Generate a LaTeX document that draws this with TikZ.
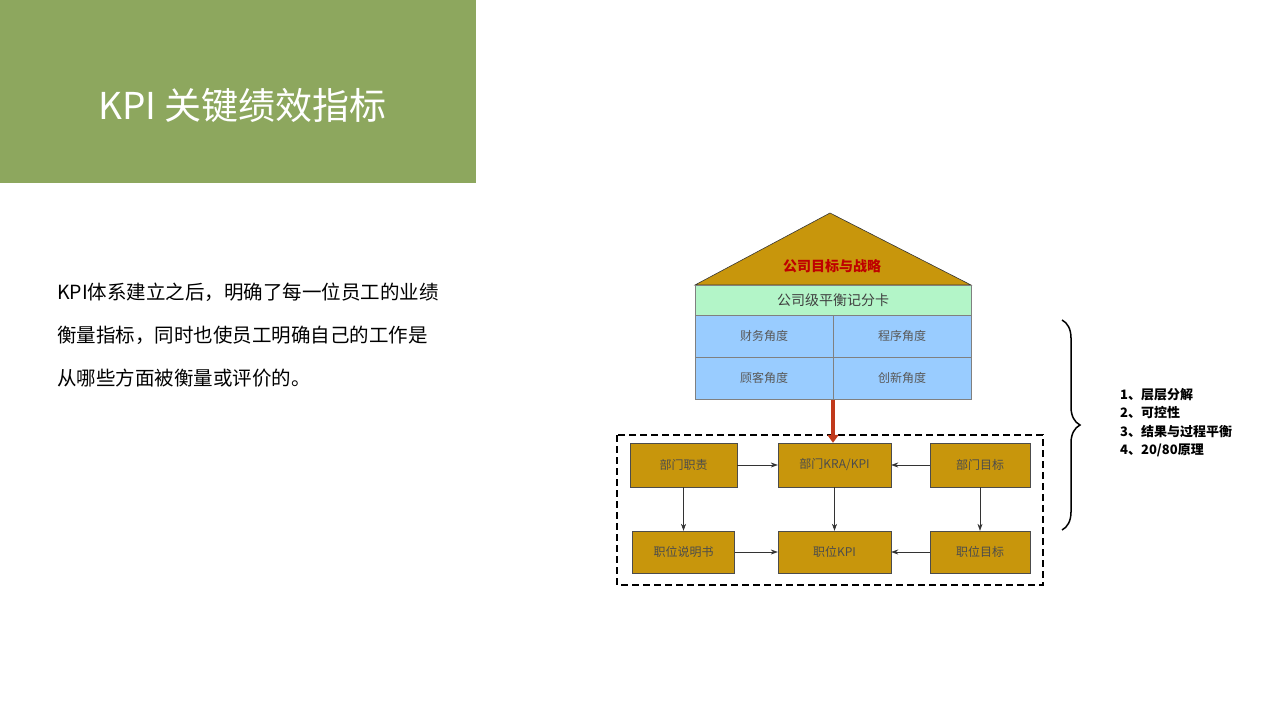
\documentclass[tikz,border=0pt]{standalone}
\usepackage{fontspec}
\setmainfont{Noto Sans CJK SC}
\newfontfamily\cjk{Noto Sans CJK SC}
\usetikzlibrary{decorations.pathreplacing,arrows.meta}
\definecolor{gold}{HTML}{C8960C}
\definecolor{titlegreen}{HTML}{8DA75E}
\definecolor{bandgreen}{HTML}{B3F5C8}
\definecolor{cellblue}{HTML}{99CCFF}
\definecolor{redarrow}{HTML}{C0391B}
\begin{document}
\begin{tikzpicture}[x=1pt,y=-1pt,
  goldbox/.style={draw=black!70,fill=gold,inner sep=0pt,font=\fontsize{12}{13}\selectfont\color{black!70}},
  lnk/.style={-{Stealth[length=7pt,width=5pt]},black!80,line width=0.6pt},
  cell/.style={draw=black!50,fill=cellblue,font=\fontsize{12}{13}\selectfont\color{black!65}}]
\useasboundingbox (0,0) rectangle (1280,720);
\fill[white] (0,0) rectangle (1280,720);
\fill[titlegreen] (0,0) rectangle (476,183);
\node[anchor=west,text=white,font=\fontsize{37}{40}\selectfont] (title) at (95,105) {KPI 关键绩效指标};
\node[anchor=north west,align=left,font=\fontsize{19.5}{43}\selectfont,inner sep=0pt] (body) at (57,283)
 {KPI体系建立之后，明确了每一位员工的业绩\\衡量指标，同时也使员工明确自己的工作是\\从哪些方面被衡量或评价的。};
% roof
\fill[gold] (830,213) -- (971,285) -- (695,285) -- cycle;
\draw[black!80,line width=0.6pt] (695,285) -- (830,213) -- (971,285) -- cycle;
\node[font=\bfseries\fontsize{14}{15}\selectfont,text=red!75!black] (roof) at (832,266) {公司目标与战略};
\node[draw=black!50,fill=bandgreen,minimum width=276pt,minimum height=30pt,anchor=north west,inner sep=0pt,font=\fontsize{14}{15}\selectfont\color{black!75}] (band) at (695,285) {公司级平衡记分卡};
\node[cell,minimum width=138pt,minimum height=42pt,anchor=north west] (c1) at (695,315) {财务角度};
\node[cell,minimum width=138pt,minimum height=42pt,anchor=north west] (c2) at (833,315) {程序角度};
\node[cell,minimum width=138pt,minimum height=42pt,anchor=north west] (c3) at (695,357) {顾客角度};
\node[cell,minimum width=138pt,minimum height=42pt,anchor=north west] (c4) at (833,357) {创新角度};
\draw[line width=1.6pt,dash pattern=on 7pt off 4pt] (617,435) rectangle (1043,585);
\node[goldbox,minimum width=107pt,minimum height=44pt] (a1) at (683.5,465) {部门职责};
\node[goldbox,minimum width=113pt,minimum height=44pt] (a2) at (834.5,465) {部门KRA/KPI};
\node[goldbox,minimum width=100pt,minimum height=44pt] (a3) at (980,465) {部门目标};
\node[goldbox,minimum width=102pt,minimum height=42pt] (b1) at (683.5,552) {职位说明书};
\node[goldbox,minimum width=113pt,minimum height=42pt] (b2) at (834.5,552) {职位KPI};
\node[goldbox,minimum width=100pt,minimum height=42pt] (b3) at (980,552) {职位目标};
\coordinate (top) at (833,400);
\draw[-{Triangle[length=8pt,width=11pt]},redarrow,line width=3.5pt] (top) -- (top|-a2.north);
\draw[lnk] (a1) -- (a2);
\draw[lnk] (a3) -- (a2);
\draw[lnk] (a1) -- (b1);
\draw[lnk] (a2) -- (b2);
\draw[lnk] (a3) -- (b3);
\draw[lnk] (b1) -- (b2);
\draw[lnk] (b3) -- (b2);
\coordinate (br1) at (1062,320);
\coordinate (br2) at (1062,530);
\draw[decorate,decoration={brace,amplitude=18pt},line width=1.5pt] (br1) -- (br2);
\node[anchor=north west,align=left,inner sep=0pt,font=\bfseries\fontsize{13}{18.5}\selectfont] (list) at (1120,388)
 {1、层层分解\\2、可控性\\3、结果与过程平衡\\4、20/80原理};
\end{tikzpicture}
\end{document}
